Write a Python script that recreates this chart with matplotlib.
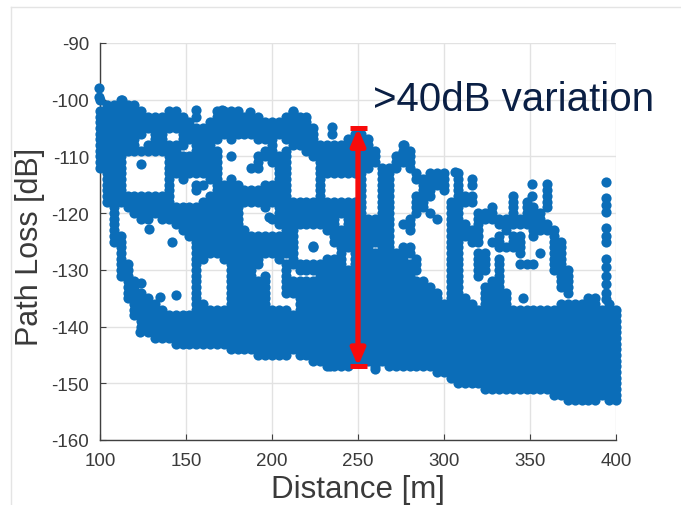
import matplotlib
matplotlib.use("Agg")
import matplotlib.pyplot as plt
from matplotlib.lines import Line2D

plt.rcParams['font.family'] = ['Liberation Sans', 'DejaVu Sans']
plt.rcParams['axes.unicode_minus'] = False

# Path loss magnitudes [dB], one list per distance column [m]
c100=[100,102,103,104,105,106,107,108,109,110,111,112]
c104=[101,102,103,104,105,106,107,108,109,110,111,112,113,114,115,116,117,118]
c108=[101,102,103,104,105,106,107,108,109,110,111,112,113,114,115,116,117,118,119,120,121,122,123,124,125]
c112=[100,101,102,103,104,105,106,107,108,109,110,111,112,113,114,115,116,117,118,124,125,126,127,128,129,130,131]
c116=[101,102,103,104,105,106,107,108,109,117,118,119,129,130,131,132,133,134,135]
c120=[101,102,103,104,105,106,107,108,109,117,118,119,120,132,133,134,135,136,137,138]
c124=[102,103,104,105,106,109,117,118,119,120,121,134,135,136,137,138,139,140]
c128=[103,104,105,108,109,117,118,119,120,121,135,136,137,138,139,140,141]
c132=[103,104,105,106,107,108,109,117,118,119,120,136,137,138,139,140,141,142]
c136=[103,104,105,106,107,108,109,117,118,119,120,121,137,138,139,140,141,142]
c140=[102,103,104,105,108,109,110,111,112,113,114,115,116,117,118,119,120,121,138,139,140,141,142]
c144=[102,103,104,105,108,109,110,111,112,113,119,120,121,122,138,139,140,141,142,143]
c148=[103,104,105,106,107,108,110,111,112,113,114,119,120,121,122,123,138,139,140,141,142,143]
c152=[104,105,106,107,110,111,112,113,119,120,121,122,123,124,138,139,140,141,142,143]
c156=[105,106,107,108,109,110,111,112,113,115,116,119,120,121,122,123,124,125,126,127,128,129,130,131,132,133,134,135,136,137,138,139,140,141,142,143]
c160=[105,106,107,108,109,110,111,112,113,115,118,119,120,121,122,123,124,125,126,127,128,136,137,138,139,140,141,142,143]
c164=[104,105,106,107,108,109,110,111,112,113,114,117,118,119,120,121,122,123,124,125,126,127,137,138,139,140,141,142,143]
c168=[102,103,104,105,106,107,109,110,111,112,113,114,115,116,117,118,119,120,121,122,123,124,125,126,127,137,138,139,140,141,142,143]
c172=[102,103,104,105,106,115,116,117,118,119,120,121,122,123,124,125,126,127,128,137,138,139,140,141,142,143]
c176=[102,103,104,105,106,107,110,114,115,116,117,118,119,120,121,122,123,124,125,126,127,128,129,130,131,132,133,134,135,136,137,138,139,140,141,142,143,144]
c180=[102,103,104,105,106,115,116,117,118,119,120,121,122,123,124,125,126,127,128,129,130,131,132,133,134,135,136,137,138,139,140,141,142,143,144]
c184=[103,104,105,106,116,117,118,123,124,125,126,127,128,129,130,131,132,133,134,135,136,137,138,139,140,141,142,143,144]
c188=[103,104,105,106,112,116,117,118,124,125,126,127,128,129,130,131,132,133,134,135,136,137,138,139,140,141,142,143,144]
c192=[103,104,105,106,107,110,111,112,116,117,118,124,125,126,127,128,129,132,133,134,135,136,137,138,139,140,141,142,143,144,145]
c196=[104,105,106,107,109,110,115,116,117,118,119,124,125,126,127,131,132,133,134,135,136,137,138,139,140,141,142,143,144,145]
c200=[104,105,106,107,108,109,110,111,115,116,117,118,121,124,125,126,127,137,138,139,140,141,142,143,144,145]
c204=[104,105,106,110,111,112,113,114,115,116,117,118,119,120,121,122,124,125,126,127,128,137,138,139,140,141,142,143,144,145]
c208=[103,104,105,106,107,109,110,111,112,113,114,115,116,117,118,119,120,121,122,123,124,125,126,127,129,130,131,132,133,134,137,138,139,140,141,142,143,144,145]
c212=[102,103,104,105,106,107,108,118,119,120,121,122,123,124,125,126,127,128,129,132,133,134,138,139,140,141,142,143,144]
c216=[103,104,105,106,107,108,118,119,120,121,122,129,130,132,133,134,135,136,137,138,139,140,141,142,143,144,145]
c220=[103,104,105,106,107,108,109,118,119,120,121,122,129,130,132,133,134,135,136,137,138,139,140,141,142,143,144,145]
c224=[105,106,107,108,109,110,118,119,120,121,122,126,129,130,132,133,134,135,136,137,138,139,140,141,142,143,144,145,146]
c228=[108,109,110,111,112,113,114,115,116,117,118,119,120,121,122,129,130,131,132,133,134,135,136,137,138,139,140,141,142,143,144,145,146]
c232=[108,109,110,111,112,113,118,119,120,121,122,123,128,129,130,131,132,133,134,135,136,137,138,139,140,141,142,143,144,145,146,147]
c236=[108,109,110,111,112,113,118,119,120,121,122,123,124,125,128,129,130,131,132,133,134,135,136,137,138,139,140,141,142,143,144,145,146,147]
c240=[108,109,110,111,112,113,118,119,120,123,124,125,126,127,128,129,130,131,132,133,134,135,136,137,138,139,140,141,142,143,144,145,146,147]
c244=[107,108,109,110,111,112,113,118,119,120,121,122,123,124,125,126,130,131,132,133,134,135,136,137,138,139,140,141,142,143,144,145,146,147]
c248=[106,107,108,109,110,111,112,113,118,119,120,121,122,123,124,125,126,127,128,129,130,131,132,133,134,135,136,137,138,139,140,141,142,143,144,145,146]
c252=[106,107,108,109,110,111,112,113,114,115,116,117,118,119,120,121,122,123,124,125,126,127,128,129,130,131,132,133,134,135,136,137,138,139,140,141,142,143,144,145,146]
c256=[107,108,109,110,111,112,121,122,123,124,125,126,127,128,129,130,131,132,133,134,135,136,137,138,139,140,141,142,143,144,145,146]
c260=[109,110,111,121,122,123,124,125,127,128,129,130,131,132,133,134,135,136,137,138,139,140,141,142,143,144,145,146,147]
c264=[112,113,114,115,116,117,118,119,120,121,122,123,124,125,126,127,128,129,130,131,132,133,134,135,136,137,138,139,140,141,142,143,144,145,146]
c268=[112,113,114,115,116,117,118,119,120,121,122,123,124,125,126,127,128,129,130,131,132,133,134,135,136,137,138,139,140,141,142,143,144,145,146,147]
c272=[110,111,112,127,128,129,130,131,132,133,134,135,136,137,138,139,140,141,142,143,144,145,146,147]
c276=[108,109,110,111,122,126,127,128,129,130,131,132,133,134,135,136,137,138,139,140,141,142,143,144,145,146,147]
c280=[109,110,111,112,121,122,123,126,127,129,130,131,132,133,134,135,136,137,138,139,140,141,142,143,144,145,146,147]
c284=[113,114,117,118,119,120,128,129,130,132,133,134,135,136,137,138,139,140,141,142,143,144,145,146,147]
c288=[114,115,116,117,118,119,132,133,134,135,136,137,138,139,140,141,142,143,144,145,146,147]
c292=[113,114,115,116,117,120,133,134,135,136,137,138,139,140,141,142,143,144,145,146,147]
c296=[113,114,115,121,134,135,136,137,138,139,140,141,142,143,144,145,146,147,148]
c300=[113,114,115,116,136,137,138,139,140,141,142,143,144,145,146,147,148]
c304=[118,119,120,121,122,123,124,125,126,127,128,129,130,131,132,133,134,135,136,137,138,139,140,141,142,143,144,145,146,147,148,149]
c308=[113,114,115,116,117,118,119,120,121,122,123,124,125,126,127,128,129,130,131,132,133,134,135,136,137,138,139,140,141,142,143,144,145,146,147,148,149,150]
c312=[117,118,122,123,124,135,136,137,138,139,140,141,142,143,144,145,146,147,148,149,150]
c316=[114,115,117,118,123,124,125,136,137,138,139,140,141,142,143,144,145,146,147,148,149,150]
c320=[120,121,122,123,124,125,127,128,129,130,131,137,138,139,140,141,142,143,144,145,146,147,148,149,150]
c324=[120,121,127,128,129,130,133,134,135,136,137,138,139,140,141,142,143,144,145,146,147,148,149,150,151]
c328=[119,120,121,125,132,133,134,135,136,137,138,139,140,141,142,143,144,145,146,147,148,149,150,151]
c332=[121,122,124,125,126,128,129,130,131,132,133,134,135,136,137,138,139,140,141,142,143,144,145,146,147,148,149,150,151]
c336=[121,122,123,126,134,135,136,137,138,139,140,141,142,143,144,145,146,147,148,149,150,151]
c340=[117,118,119,120,121,122,124,125,126,137,138,139,140,141,142,143,144,145,146,147,148,149,150,151]
c344=[121,122,124,125,126,127,129,137,138,139,140,141,142,143,144,145,146,147,148,149,150,151]
c348=[118,119,120,121,122,129,137,138,139,140,141,142,143,144,145,146,147,148,149,150,151]
c352=[119,120,121,122,123,124,129,137,138,139,140,141,142,143,144,145,146,147,148,149,150,151]
c356=[120,121,122,123,127,137,138,139,140,141,142,143,144,145,146,147,148,149,150,151]
c360=[116,117,118,119,122,123,137,138,139,140,141,142,143,144,145,146,147,148,149,150,151]
c364=[123,124,125,126,127,128,129,130,137,138,139,140,141,142,143,144,145,146,147,148,149,150,151,152]
c368=[125,126,127,128,129,130,131,132,133,136,137,138,139,140,141,142,143,144,145,146,147,148,149,150,151,152]
c372=[130,131,132,133,134,136,137,138,139,140,141,142,143,144,145,146,147,148,149,150,151,152,153]
c376=[136,137,138,139,140,141,142,143,144,145,146,147,148,149,150,151,152,153]
c380=[136,137,138,139,140,141,142,143,144,145,146,147,148,149,150,151,152,153]
c384=[135,136,137,138,139,140,141,142,143,144,145,146,147,148,149,150,151,152,153]
c388=[135,136,137,138,139,140,141,142,143,144,145,146,147,148,149,150,151,152,153]
c392=[137,138,139,140,141,142,143,144,145,146,147,148,149,150,151,152]
c396=[136,137,138,139,140,141,142,143,144,145,146,147,148,149,150,151,152,153]
c400=[137,138,139,140,141,142,143,144,145,146,147,148,149,150,151,152,153]

loss_columns = [c100,c104,c108,c112,c116,c120,c124,c128,c132,c136,c140,c144,c148,c152,c156,c160,c164,c168,c172,c176,
                c180,c184,c188,c192,c196,c200,c204,c208,c212,c216,c220,c224,c228,c232,c236,c240,c244,c248,c252,c256,
                c260,c264,c268,c272,c276,c280,c284,c288,c292,c296,c300,c304,c308,c312,c316,c320,c324,c328,c332,c336,
                c340,c344,c348,c352,c356,c360,c364,c368,c372,c376,c380,c384,c388,c392,c396,c400]
column_distance = [100,104,108,112,116,120,124,128,132,136,140,144,148,152,156,160,164,168,172,176,
                   180,184,188,192,196,200,204,208,212,216,220,224,228,232,236,240,244,248,252,256,
                   260,264,268,272,276,280,284,288,292,296,300,304,308,312,316,320,324,328,332,336,
                   340,344,348,352,356,360,364,368,372,376,380,384,388,392,396,400]

# Isolated points
extra_distance = [99.6,99.6,112.6,156,156,234.7,234.7,259.8,128.7,141.7,123.7,134.9,144.2,124,198,224,123,277,274,306.3,346,351,351,359.6,394,394,394,394,394,394,394,394,394,394,394,394,394,233.7,170.7,212,187]
extra_loss = [98,99.5,100.1,101.9,103,104.8,106,147.4,122.8,125,132.4,134.7,134.4,111.4,120.6,125.8,140.9,108,110,112.7,135,114.9,117,114.8,114.5,117.4,118.5,119.8,122.7,124,125,128,129.5,131,132.5,134,135.2,147,101.9,102.2,102.2]

# Red span annotation [dB]
span_distance = 250
span_top = -105
span_bottom = -147

x_ticks = [100,150,200,250,300,350,400]
y_ticks = [-160,-150,-140,-130,-120,-110,-100,-90]

W, H = 681, 506
fig = plt.figure(figsize=(W/100, H/100), dpi=100, facecolor='white')
ax = fig.add_axes([100/W, 1-441/H, 516/W, 397/H])

xs, ys = [], []
for d, col in zip(column_distance, loss_columns):
    xs.extend([d]*len(col))
    ys.extend([-v for v in col])
xs.extend(extra_distance)
ys.extend([-v for v in extra_loss])

ax.scatter(xs, ys, s=54, color='#0B6DB8', linewidths=0, zorder=3, clip_on=False)

ax.set_xlim(100, 400)
ax.set_ylim(-160, -90)
ax.set_xticks(x_ticks)
ax.set_yticks(y_ticks)
ax.grid(True, color='#E2E2E2', linewidth=1.0)
ax.set_axisbelow(True)
for s in ('top', 'right'):
    ax.spines[s].set_visible(False)
for s in ('left', 'bottom'):
    ax.spines[s].set_color('#404040')
    ax.spines[s].set_linewidth(1.0)
ax.tick_params(direction='in', length=4, width=0.8, color='#404040',
               labelcolor='#3A3A3A', labelsize=13.5)
ax.tick_params(axis='x', pad=9)
ax.tick_params(axis='y', pad=8)

ax.set_xlabel('Distance [m]', fontsize=22.5, color='#3A3A3A', va='center')
ax.xaxis.set_label_coords((358-100)/516, (441-490)/397)
ax.set_ylabel('Path Loss [dB]', fontsize=22, color='#3A3A3A', va='center')
ax.yaxis.set_label_coords((30-100)/516, (441-247)/397)

# Red double arrow with end caps
red = '#F80B0B'
ax.annotate('', xy=(span_distance, span_top), xytext=(span_distance, span_bottom),
            arrowprops=dict(arrowstyle='<|-|>,head_length=0.7,head_width=0.3', color=red,
                            lw=3.8, shrinkA=0, shrinkB=0, mutation_scale=14), zorder=5)
for v in (span_top, span_bottom):
    ax.plot([span_distance-4.6, span_distance+5], [v, v], color=red, lw=3.6,
            solid_capstyle='butt', zorder=5)

fig.text(373/W, 1-100/H, '>40dB variation', fontsize=29, color='#0A1F44',
         ha='left', va='center')

# Slide frame
fig.add_artist(Line2D([10.5/W, 10.5/W], [0, 1-7.5/H], color='#E4E4E4', lw=1))
fig.add_artist(Line2D([10.5/W, 1], [1-7.5/H, 1-7.5/H], color='#E4E4E4', lw=1))

fig.savefig('out.png', dpi=100)
